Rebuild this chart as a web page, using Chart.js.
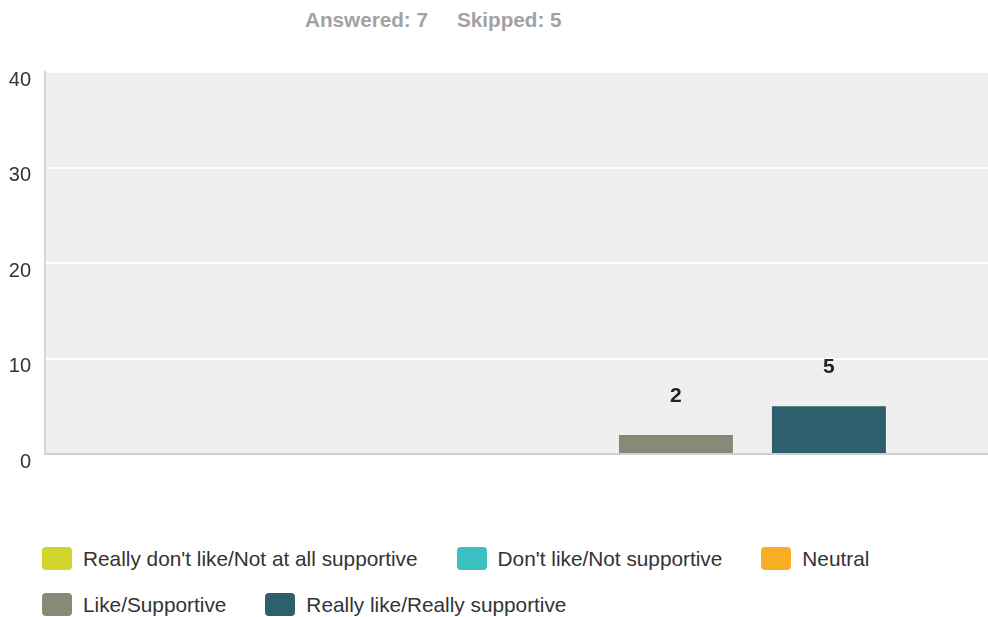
<!DOCTYPE html>
<html>
<head>
<meta charset="utf-8">
<script src="https://cdn.jsdelivr.net/npm/chart.js@4/dist/chart.umd.min.js"></script>
<style>
  html, body { margin: 0; padding: 0; background: #fff; overflow: hidden; }
  body { width: 988px; height: 617px; position: relative; font-family: "Liberation Sans", Arial, sans-serif; }
  #resumo { position: absolute; left: 305px; top: 8px; line-height: 24px; font-size: 20.7px; font-weight: bold; color: #a2a2a2; white-space: nowrap; }
  #resumo span + span { margin-left: 29px; }
  #caixaGrafico { position: absolute; left: 0; top: 0; width: 1001px; height: 480px; }
  #legenda { position: absolute; left: 42px; top: 547px; width: 930px; display: flex; flex-wrap: wrap; column-gap: 39px; row-gap: 23px; }
  .item { display: flex; align-items: center; height: 23px; font-size: 20.8px; color: #333; white-space: nowrap; }
  .caixa { width: 30px; height: 23px; border-radius: 4px; margin-right: 11px; }
</style>
</head>
<body>
<div id="resumo"><span>Answered: 7</span><span>Skipped: 5</span></div>
<div id="caixaGrafico"><canvas id="grafico"></canvas></div>
<div id="legenda"></div>

<script>
  const categorias = [""];
  const series = [
    "Really don't like/Not at all supportive",
    "Don't like/Not supportive",
    "Neutral",
    "Like/Supportive",
    "Really like/Really supportive"
  ];
  const valores = [0, 0, 0, 2, 5];
  const cores = ["#d1d52d", "#3cbfc0", "#f7ae22", "#898977", "#2e5f6c"];
  const ticksY = [0, 10, 20, 30, 40];

  // fundo cinza da area do grafico
  const fundoPlugin = {
    id: "fundo",
    beforeDraw(chart) {
      const { ctx, chartArea } = chart;
      ctx.save();
      ctx.fillStyle = "#efefef";
      ctx.fillRect(chartArea.left, chartArea.top, chartArea.right - chartArea.left, chartArea.bottom - chartArea.top);
      ctx.restore();
    }
  };

  // numeros em cima das barras
  const rotulosPlugin = {
    id: "rotulos",
    afterDatasetsDraw(chart) {
      const ctx = chart.ctx;
      ctx.save();
      ctx.font = "bold 21px 'Liberation Sans', Arial, sans-serif";
      ctx.fillStyle = "#222";
      ctx.textAlign = "center";
      ctx.textBaseline = "middle";
      chart.data.datasets.forEach((ds, i) => {
        chart.getDatasetMeta(i).data.forEach((bar, j) => {
          const v = ds.data[j];
          if (!v) return;
          ctx.fillText(String(v), bar.x, bar.y - 39);
        });
      });
      ctx.restore();
    }
  };

  const datasets = series.map((nome, i) => ({
    label: nome,
    data: [valores[i]],
    backgroundColor: cores[i],
    borderWidth: 0,
    categoryPercentage: 0.8,
    barPercentage: 0.745
  }));

  const grafico = new Chart(document.getElementById("grafico"), {
    type: "bar",
    data: { labels: categorias, datasets },
    options: {
      responsive: true,
      maintainAspectRatio: false,
      animation: false,
      layout: { padding: { top: 72, bottom: 0, right: 0, left: 0 } },
      plugins: {
        legend: { display: false },
        tooltip: { enabled: false },
        title: { display: false }
      },
      scales: {
        x: {
          ticks: { display: false },
          grid: { display: false, drawTicks: false },
          border: { display: true, color: "#cfcfcf", width: 2 }
        },
        y: {
          min: 0,
          max: 40,
          afterBuildTicks: scale => { scale.ticks = ticksY.map(v => ({ value: v })); },
          afterFit: scale => { scale.width = 45; },
          ticks: {
            padding: 14,
            labelOffset: 8,
            color: "#333",
            font: { family: "'Liberation Sans', Arial, sans-serif", size: 20 }
          },
          grid: { color: "#ffffff", lineWidth: 2, drawTicks: false, tickLength: 0 },
          border: { display: true, color: "#d6d6d6", width: 2 }
        }
      }
    },
    plugins: [fundoPlugin, rotulosPlugin]
  });

  // legenda em html
  const legenda = document.getElementById("legenda");
  grafico.data.datasets.forEach(ds => {
    const item = document.createElement("div");
    item.className = "item";
    item.innerHTML = `<div class="caixa" style="background:${ds.backgroundColor}"></div><span>${ds.label}</span>`;
    legenda.appendChild(item);
  });
</script>
</body>
</html>
